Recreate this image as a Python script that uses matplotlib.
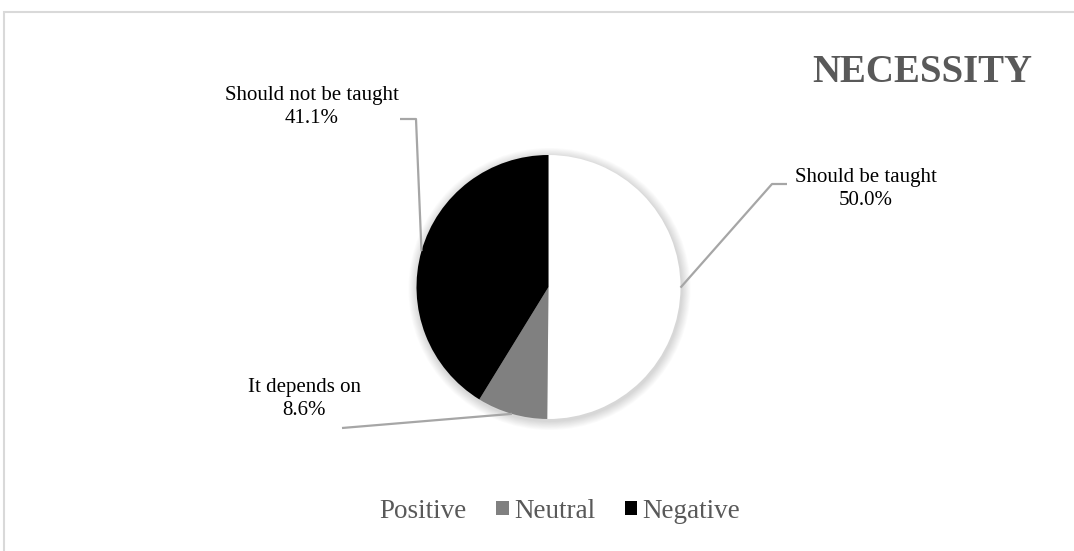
import matplotlib
matplotlib.use("Agg")
import matplotlib.pyplot as plt
import numpy as np
from matplotlib.patches import Circle, Rectangle

categories = ["Positive", "Neutral", "Negative"]
label_texts = ["Should be taught", "It depends on", "Should not be taught"]
values = [50.0, 8.6, 41.1]
colors = ["#FFFFFF", "#808080", "#000000"]

W, H = 1074, 551
fig = plt.figure(figsize=(W / 100, H / 100), dpi=100)
ax = fig.add_axes([0, 0, 1, 1])

serif = "Liberation Serif"
text_col = "#595959"

cx, cy, r = 548.5, H - 287, 132

wedges, _ = ax.pie(values, colors=colors, startangle=90, counterclock=False,
                   center=(cx, cy), radius=r, normalize=True,
                   wedgeprops=dict(linewidth=0))
for w in wedges:
    w.set_zorder(3)
ax.set_xlim(0, W)
ax.set_ylim(0, H)
ax.set_aspect("equal")
ax.axis("off")

# chart frame (only top and left visible)
ax.add_patch(Rectangle((4, -10), W + 20, H - 12 + 10, fill=False,
                       edgecolor="#D9D9D9", linewidth=1.5))

# soft shadow
for i in range(10):
    ax.add_patch(Circle((cx + 1, cy - 2), r + 1 + i * 0.9, facecolor="#000000",
                        alpha=0.016, edgecolor="none", zorder=1))

# leader lines and labels (pixel layout)
elbows = {
    0: [(772, H - 184), (787, H - 184)],
    1: [(342, H - 428)],
    2: [(416, H - 119), (400, H - 119)],
}
label_pos = {
    0: (866, H - 189),
    1: (304, H - 399),
    2: (312, H - 107),
}
line_col = "#A6A6A6"
for i, w in enumerate(wedges):
    mid = np.deg2rad((w.theta1 + w.theta2) / 2)
    sx, sy = cx + r * np.cos(mid), cy + r * np.sin(mid)
    pts = [(sx, sy)] + elbows[i]
    ax.plot([p[0] for p in pts], [p[1] for p in pts], color=line_col,
            linewidth=1.6, zorder=4, solid_capstyle="butt")
    lx, ly = label_pos[i]
    ax.text(lx, ly, f"{label_texts[i]}\n{values[i]:.1f}%", ha="center",
            va="center", fontsize=15, family=serif, color="#000000",
            linespacing=1.25, zorder=5)

ax.text(922, H - 72, "NECESSITY", ha="center", va="center", fontsize=28,
        fontweight="bold", family=serif, color=text_col)

leg = ax.legend(wedges, categories, loc="center", bbox_to_anchor=(551 / W, 1 - 511 / H),
                ncol=3, frameon=False, handlelength=0.45, handleheight=0.45,
                handletextpad=0.2, columnspacing=1.1,
                prop=dict(family=serif, size=19.5))
for t in leg.get_texts():
    t.set_color(text_col)

fig.savefig("out.png", dpi=100, facecolor="white")
